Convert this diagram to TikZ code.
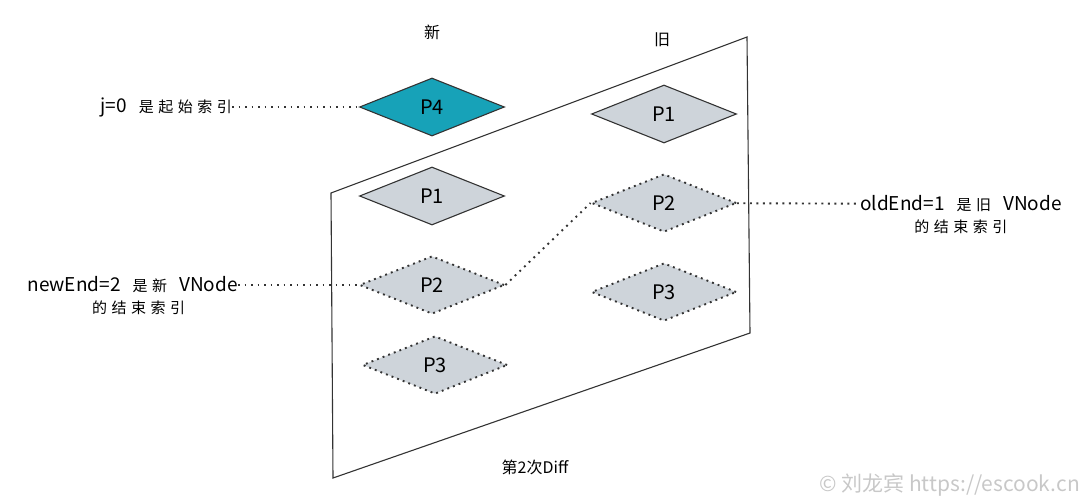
\documentclass[tikz,border=0pt]{standalone}
\usepackage{fontspec}
\setmainfont{Noto Sans CJK SC}
\newfontfamily\cjkwide{Noto Sans CJK SC}[LetterSpace=30]
\usetikzlibrary{shapes.geometric,positioning}
\definecolor{tealfill}{HTML}{17A2B8}
\definecolor{grayfill}{HTML}{CED4DA}
\definecolor{edgegray}{HTML}{333333}
\definecolor{markgray}{HTML}{C8C8C8}
\begin{document}
\begin{tikzpicture}[x=1pt, y=-1pt,
    vnode/.style={diamond, draw=edgegray, line width=1.1pt, fill=grayfill,
        minimum width=145pt, minimum height=58pt, inner sep=0pt,
        font=\fontsize{20}{20}\selectfont},
    vdash/.style={vnode, line width=1.9pt, dash pattern=on 1.9pt off 4.1pt},
    dotline/.style={draw=edgegray, line width=1.9pt, dash pattern=on 1.9pt off 4.6pt},
    note/.style={inner sep=0pt, font=\fontsize{19}{20}\selectfont},
    head/.style={inner sep=0pt, font=\fontsize{16}{18}\selectfont}]
    \useasboundingbox (0,0) rectangle (1087,503);
    \draw[edgegray, line width=1.1pt] (331,193) -- (747,37) -- (750,333) -- (333,478) -- cycle;
    \node[head] (newhead) at (432,32) {新};
    \node[head] (oldhead) at (662,40) {旧};
    \node[vnode, fill=tealfill] (p4) at (432,107) {P4};
    \node[vnode] (p1new) at (432,196) {P1};
    \node[vdash] (p2new) at (432,285) {P2};
    \node[vdash] (p3new) at (435,365) {P3};
    \node[vnode] (p1old) at (664,114) {P1};
    \node[vdash] (p2old) at (664,203) {P2};
    \node[vdash] (p3old) at (664,292) {P3};
    \node[note, anchor=east] (startnote) at (232,107) {j=0 {\cjkwide\fontsize{15}{17}\selectfont\ 是起始索引}};
    \node[note, anchor=east] (newnote) at (238,285) {newEnd=2 {\cjkwide\fontsize{15}{17}\selectfont\ 是新\ } VNode};
    \node[note, below=7pt of newnote, xshift=6pt] (newnote2) {\cjkwide\fontsize{15}{17}\selectfont 的结束索引};
    \node[note, anchor=west] (oldnote) at (860,204) {oldEnd=1 {\cjkwide\fontsize{15}{17}\selectfont\ 是旧\ } VNode};
    \node[note, below=7pt of oldnote] (oldnote2) {\cjkwide\fontsize{15}{17}\selectfont 的结束索引};
    \node[head] (title) at (535,467) {第2次Diff};
    \node[inner sep=0pt, text=markgray, font=\fontsize{21}{21}\selectfont, anchor=east] (mark) at (1080,485) {© 刘龙宾 https://escook.cn};
    \draw[dotline] (startnote) -- (p4);
    \draw[dotline] (newnote) -- (p2new);
    \draw[dotline] (p2new.east) -- (p2old.west);
    \draw[dotline] (p2old) -- (oldnote);
\end{tikzpicture}
\end{document}
